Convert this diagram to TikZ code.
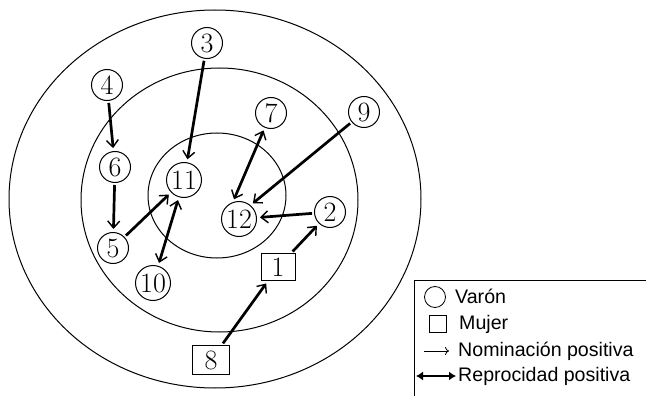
\documentclass[tikz,border=0pt]{standalone}
\usepackage{fontspec}
\newfontfamily\legendfont{Liberation Sans}
\usepackage{tikz}
\usetikzlibrary{arrows.meta,positioning}

\begin{document}
\begin{tikzpicture}[
    x=1pt, y=-1pt,
    varon/.style={circle, draw, line width=1pt, minimum size=31pt, inner sep=0pt, font=\fontsize{28}{28}\selectfont},
    varon2/.style={varon, minimum size=35pt},
    mujer/.style={rectangle, draw, line width=1pt, minimum width=34pt, minimum height=27pt, inner sep=0pt, font=\fontsize{28}{28}\selectfont},
    arrow/.style={-{Straight Barb[length=7pt,width=12pt,line width=1.4pt]}, line width=2.7pt, shorten <=2pt, shorten >=3pt},
    recip/.style={{Straight Barb[length=7pt,width=12pt,line width=1.4pt]}-{Straight Barb[length=7pt,width=12pt,line width=1.4pt]}, line width=2.7pt, shorten <=3pt, shorten >=3pt},
    legtext/.style={anchor=west, font=\legendfont\fontsize{19.6}{20}\selectfont, inner sep=0pt},
]
    \useasboundingbox (0,0) rectangle (646,396);

    % Rings
    \draw[line width=1pt] (215,199) ellipse [x radius=206pt, y radius=189pt];
    \draw[line width=1pt] (219.5,200) ellipse [x radius=138.5pt, y radius=132pt];
    \draw[line width=1pt] (217,195.5) ellipse [x radius=69pt, y radius=62.5pt];

    % Members
    \node[varon] (p3) at (207,43) {3};
    \node[varon] (p4) at (107,85) {4};
    \node[varon] (p6) at (115,167) {6};
    \node[varon] (p5) at (113,248) {5};
    \node[varon2] (p11) at (184,180) {11};
    \node[varon2] (p10) at (153,283) {10};
    \node[varon] (p7) at (271,113) {7};
    \node[varon] (p9) at (364,112) {9};
    \node[varon2] (p12) at (239,219) {12};
    \node[varon] (p2) at (330,212) {2};
    \node[mujer] (p1) at (278,267) {1};
    \node[mujer, minimum width=37pt, minimum height=29pt] (p8) at (211,360) {8};

    % Nominations
    \draw[arrow] (p4) -- (p6);
    \draw[arrow] (p6) -- (p5);
    \draw[arrow] (p3) -- (p11);
    \draw[arrow] (p5) -- (p11);
    \draw[arrow] (p9) -- (p12.50);
    \draw[arrow] (p2) -- (p12);
    \draw[arrow] (p1) -- (p2);
    \draw[arrow] (p8) -- (p1);

    % Reciprocities
    \draw[recip] (p11) -- (p10);
    \draw[recip] (p7) -- (p12.110);

    % Legend
    \draw[line width=1pt] (646,280) -| (414,396);
    \node[circle, draw, line width=0.8pt, minimum size=21pt, inner sep=0pt] (legv) at (435,297) {};
    \node[rectangle, draw, line width=0.8pt, minimum size=17pt, inner sep=0pt] (legm) at (438,324) {};
    \coordinate (legna) at (424,351);
    \coordinate (legnb) at (449,351);
    \coordinate (legra) at (416,376);
    \coordinate (legrb) at (456,376);
    \draw[-{To[length=4pt,width=8pt]}, line width=0.8pt] (legna) -- (legnb);
    \draw[{Latex[length=7pt,width=9pt]}-{Latex[length=7pt,width=9pt]}, line width=2pt] (legra) -- (legrb);
    \node[legtext] at (455,296) {Varón};
    \node[legtext] at (459,324) {Mujer};
    \node[legtext] at (458,351) {Nominación positiva};
    \node[legtext] at (458,376) {Reprocidad positiva};
\end{tikzpicture}
\end{document}
